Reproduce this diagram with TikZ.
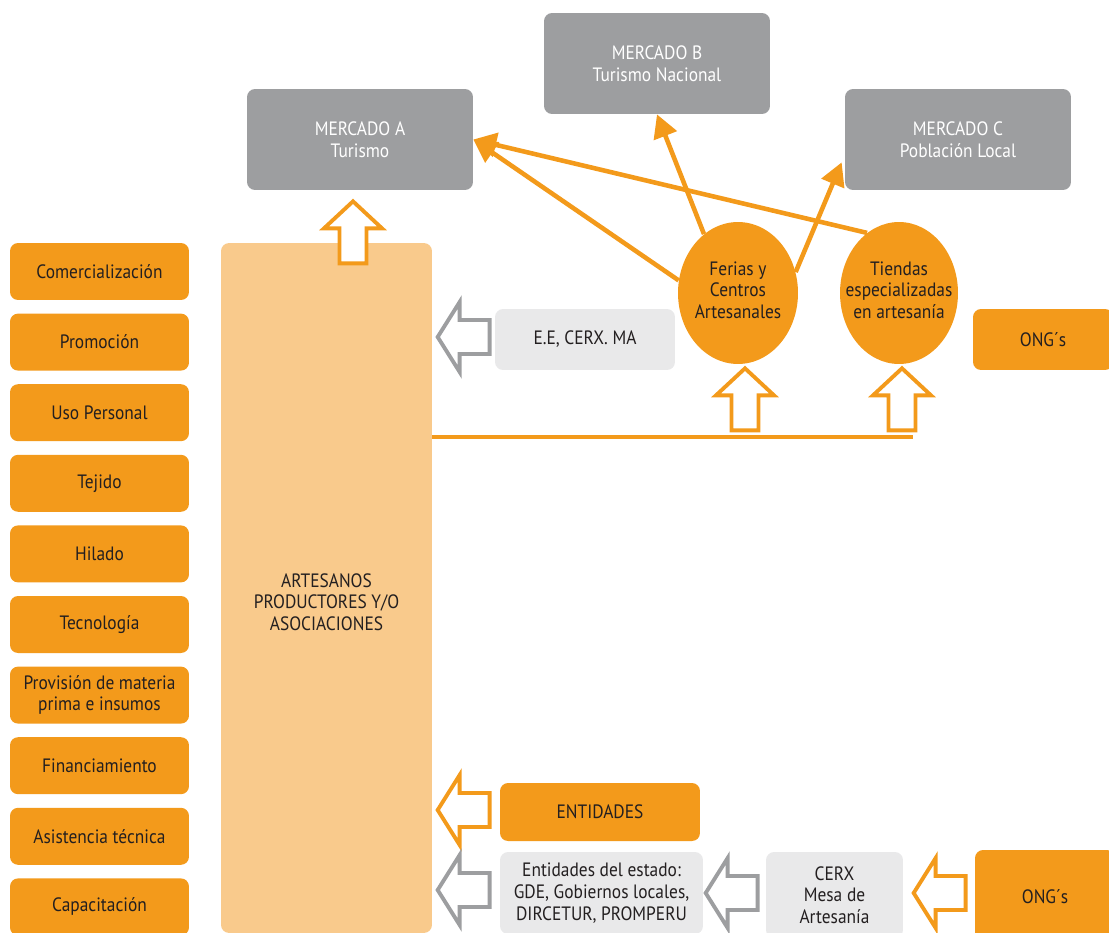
\documentclass[tikz,border=0pt]{standalone}
\usepackage{fontspec}
\setmainfont[FakeStretch=0.9]{PT Sans}
\usepackage{tikz}
\usetikzlibrary{calc,arrows.meta,shapes.geometric}
\definecolor{orng}{HTML}{F39A1B}
\definecolor{peach}{HTML}{F9CA8C}
\definecolor{mgray}{HTML}{9D9EA0}
\definecolor{lgray}{HTML}{E9E9EA}
\definecolor{ink}{HTML}{231F20}
\tikzset{
  lab/.style={font=\fontsize{11}{12.3}\selectfont, align=center, text=ink},
  obox/.style={lab, rectangle, rounded corners=0.16cm, fill=orng, inner sep=0pt},
  gbox/.style={lab, rectangle, rounded corners=0.16cm, fill=lgray, inner sep=0pt},
  mbox/.style={lab, text=white, rectangle, rounded corners=0.16cm, fill=mgray, inner sep=0pt, minimum width=4.52cm, minimum height=2.02cm},
  side/.style={obox, minimum width=3.58cm, minimum height=1.14cm},
  oval/.style={ellipse, fill=orng, inner sep=0pt, minimum width=2.4cm, minimum height=2.84cm},
  link/.style={draw=orng, line width=2.6pt, -{Triangle[length=0.46cm,width=0.48cm]}},
  bar/.style={draw=orng, line width=2.8pt},
  hollow/.style={fill=white, line width=2.2pt, line join=miter},
  upblock/.pic={\draw[hollow] (0,0) -- (-29,27) -- (-13.5,27) -- (-13.5,62) -- (13.5,62) -- (13.5,27) -- (29,27) -- cycle;},
  leftblock/.pic={\draw[hollow] (0,0) -- (22,-35) -- (22,-17) -- (52,-17) -- (52,17) -- (22,17) -- (22,35) -- cycle;}
}

\begin{document}
\begin{tikzpicture}[x=0.02cm, y=-0.02cm]
  \clip (0,0) rectangle (1109,933);
  % mercados
  \node[mbox] (mercA) at (360,139.5) {MERCADO A\\Turismo};
  \node[mbox] (mercB) at (657,63.5) {MERCADO B\\Turismo Nacional};
  \node[mbox] (mercC) at (958,139.5) {MERCADO C\\Población Local};
  % columna izquierda
  \foreach \t [count=\i] in {Comercialización, Promoción, Uso Personal, Tejido, Hilado, Tecnología,
      {Provisión de materia\\prima e insumos}, Financiamiento, Asistencia técnica, Capacitación}
    \node[side] (s\i) at (99.5,{271.5+70.6*(\i-1)}) {\t};
  \node[rectangle, rounded corners=0.16cm, fill=peach, minimum width=4.22cm, minimum height=13.8cm] (artes) at (326.5,588) {};
  \node[lab] (artestxt) at (326.5,602) {ARTESANOS\\PRODUCTORES Y/O\\ASOCIACIONES};
  % canales
  \node[oval] (ferias) at (738,293) {};
  \node[lab] (feriastxt) at (738,290) {Ferias y\\Centros\\Artesanales};
  \node[oval, minimum width=2.36cm] (tiendas) at (899,293) {};
  \node[lab] (tiendastxt) at (899,290) {Tiendas\\especializadas\\en artesanía};
  \node[gbox, minimum width=3.6cm, minimum height=1.22cm] (ee) at (585,339.5) {E.E, CERX. MA};
  \node[obox, minimum width=2.8cm, minimum height=1.22cm] (ongt) at (1043,339.5) {ONG´s};
  % apoyo
  \node[obox, minimum width=4cm, minimum height=1.16cm] (entid) at (600,812) {ENTIDADES};
  \node[gbox, minimum width=4.06cm, minimum height=1.64cm] (estado) at (601.5,893) {Entidades del estado:\\GDE, Gobiernos locales,\\DIRCETUR, PROMPERU};
  \node[gbox, minimum width=2.74cm, minimum height=1.72cm] (cerx) at (834.5,895) {CERX\\Mesa de\\Artesanía};
  \node[obox, minimum width=2.8cm, minimum height=1.88cm] (ongb) at (1045,897) {ONG´s};

  \draw[link] (ferias.168) -- (mercA.east);
  \draw[link] (tiendas.118) -- (mercA.east);
  \draw[link] (ferias.120) -- (mercB.south);
  \draw[link] (ferias.20) -- ($(mercC.south west)+(-3,-28)$);
  \coordinate (barend) at (913,437);
  \draw[bar] (artes.east |- barend) -- (barend);

  \pic[color=orng] at ($(mercA.south)+(-7,11)$) {upblock};
  \pic[color=orng] at ($(ferias.south)+(7,4)$) {upblock};
  \pic[color=orng] at ($(tiendas.south)+(3,4)$) {upblock};
  \pic[color=mgray] at ($(ee.west)+(-57,-2.5)$) {leftblock};
  \pic[color=orng] at ($(entid.west)+(-62,-2)$) {leftblock};
  \pic[color=mgray] at ($(estado.west)+(-62,-3)$) {leftblock};
  \pic[color=mgray] at ($(cerx.west)+(-60,-2)$) {leftblock};
  \pic[color=orng] at ($(ongb.west)+(-61,-4)$) {leftblock};
\end{tikzpicture}
\end{document}
